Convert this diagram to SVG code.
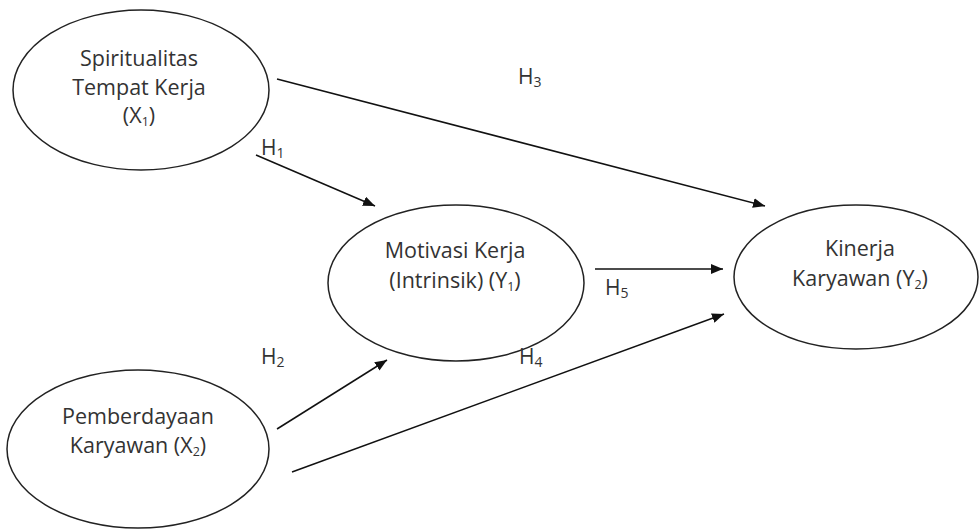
<svg xmlns="http://www.w3.org/2000/svg" width="980" height="529" viewBox="0 0 980 529">
<defs>
<marker id="arr" viewBox="0 0 12 10" refX="12" refY="5" markerWidth="12" markerHeight="10" markerUnits="userSpaceOnUse" orient="auto">
<path d="M0,0 L12,5 L0,10 z" fill="#111"/>
</marker>
<style>
.node ellipse{fill:#fff;stroke:#222;stroke-width:1.5}
.t{font-family:"Open Sans",Lato,"Liberation Sans",sans-serif;font-size:21.5px;fill:#333;text-anchor:middle}
.lbl{font-family:"Open Sans",Lato,"Liberation Sans",sans-serif;font-size:21px;fill:#333}
.sub{font-size:12.5px}
.lsub{font-size:14px}
#connectors line{stroke:#111;stroke-width:1.5;fill:none}
</style>
</defs>
<rect width="980" height="529" fill="#fff"/>
<g id="connectors">
<line x1="277" y1="79" x2="765" y2="206" marker-end="url(#arr)"/>
<line x1="256" y1="155" x2="375" y2="206" marker-end="url(#arr)"/>
<line x1="595" y1="269" x2="723" y2="269" marker-end="url(#arr)"/>
<line x1="277" y1="429" x2="387" y2="360" marker-end="url(#arr)"/>
<line x1="292" y1="472" x2="724" y2="314" marker-end="url(#arr)"/>
</g>
<g id="node-x1" class="node">
<ellipse cx="141" cy="90" rx="128" ry="80"/>
<text class="t" x="139" y="66">Spiritualitas</text>
<text class="t" x="139" y="95">Tempat Kerja</text>
<text class="t" x="139" y="123">(X<tspan class="sub" dy="3">1</tspan><tspan dy="-3">)</tspan></text>
</g>
<g id="node-y1" class="node">
<ellipse cx="456" cy="283" rx="128" ry="78"/>
<text class="t" x="455" y="258">Motivasi Kerja</text>
<text class="t" x="455" y="288">(Intrinsik) (Y<tspan class="sub" dy="3">1</tspan><tspan dy="-3">)</tspan></text>
</g>
<g id="node-y2" class="node">
<ellipse cx="856" cy="277" rx="122" ry="72"/>
<text class="t" x="860" y="256">Kinerja</text>
<text class="t" x="860" y="286">Karyawan (Y<tspan class="sub" dy="3">2</tspan><tspan dy="-3">)</tspan></text>
</g>
<g id="node-x2" class="node">
<ellipse cx="138" cy="449" rx="131" ry="79"/>
<text class="t" x="138" y="424">Pemberdayaan</text>
<text class="t" x="138" y="453">Karyawan (X<tspan class="sub" dy="3">2</tspan><tspan dy="-3">)</tspan></text>
</g>
<g id="labels">
<text class="lbl" x="518" y="84">H<tspan class="lsub" dy="3">3</tspan></text>
<text class="lbl" x="261" y="155">H<tspan class="lsub" dy="3">1</tspan></text>
<text class="lbl" x="605" y="295">H<tspan class="lsub" dy="3">5</tspan></text>
<text class="lbl" x="261" y="364">H<tspan class="lsub" dy="3">2</tspan></text>
<text class="lbl" x="519" y="364">H<tspan class="lsub" dy="3">4</tspan></text>
</g>
</svg>
